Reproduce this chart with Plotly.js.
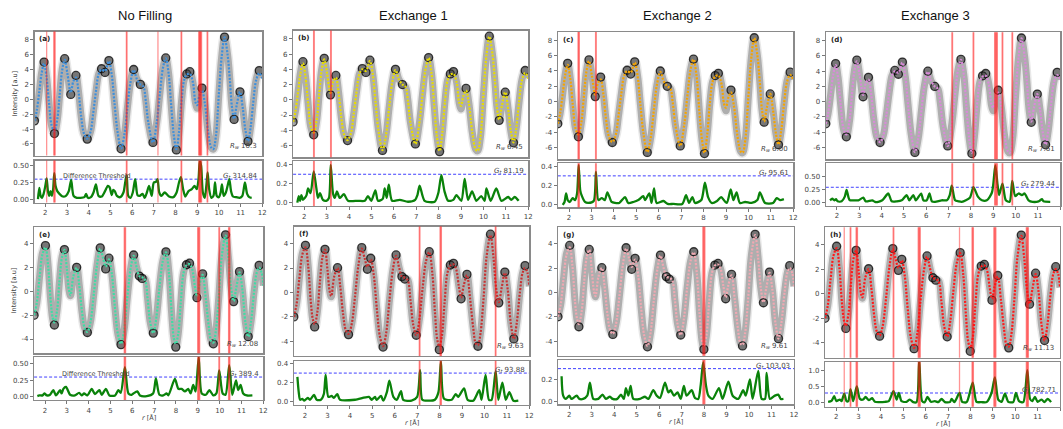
<!DOCTYPE html>
<html>
<head>
<meta charset="utf-8">
<script src="https://cdn.plot.ly/plotly-3.0.1.min.js"></script>
<style>
  html, body { margin: 0; padding: 0; background: #fff; }
  #chart { width: 1063px; height: 429px; }
</style>
</head>
<body>
<div id="chart"></div>
<script>
// ---------- data ----------
// Measured G(r) for the top row (panels a-d share the same data set)
const rTop = [1.50,1.60,1.72,1.83,1.94,2.05,2.17,2.29,2.42,2.55,2.66,2.77,2.89,3.02,3.17,3.29,3.41,3.53,3.65,3.78,3.93,4.08,4.20,4.33,4.46,4.59,4.75,4.93,5.06,5.18,5.32,5.49,5.64,5.78,5.92,6.07,6.22,6.38,6.52,6.62,6.75,6.96,7.13,7.28,7.42,7.55,7.68,7.80,7.92,8.04,8.16,8.28,8.40,8.52,8.66,8.80,8.92,9.00,9.10,9.22,9.35,9.50,9.65,9.74,9.86,10.00,10.13,10.26,10.40,10.50,10.60,10.70,10.82,10.97,11.10,11.22,11.34,11.46,11.58,11.72,11.86,12.00];
const gTop = [-2.9,-1.6,1.0,3.6,5.0,3.2,-0.5,-3.6,-4.6,-2.8,0.6,3.9,5.45,3.4,0.65,2.4,3.2,1.0,-2.3,-4.6,-5.35,-4.4,-2.0,1.0,3.4,4.1,3.6,5.2,3.3,-0.3,-4.2,-6.65,-4.8,-1.2,2.2,4.0,2.7,2.0,1.7,0.0,-3.2,-5.8,-3.2,0.8,4.2,5.55,3.5,-0.8,-4.8,-6.8,-4.4,-0.2,2.6,3.4,3.7,2.3,-0.5,-1.2,0.6,1.5,-0.5,-4.3,-6.5,-6.7,-5.0,0.8,5.8,8.35,6.0,2.8,-1.0,-2.7,-0.8,1.0,-1.2,-4.1,-5.65,-3.8,-0.5,2.7,3.85,2.9];
// Refined model for the top row
const fitTop = [-2.9,-1.6,1.0,3.5,4.8,3.1,-0.5,-3.5,-4.3,-2.7,0.6,3.8,5.3,3.4,0.9,2.4,2.9,1.0,-2.3,-4.6,-5.3,-4.4,-2.0,1.0,3.4,4.0,3.8,5.1,3.3,-0.3,-4.2,-6.6,-4.8,-1.2,2.2,3.9,2.7,2.0,1.7,0.0,-3.2,-5.8,-3.2,0.8,4.2,5.5,3.5,-0.8,-4.8,-6.7,-4.4,-0.2,2.6,3.3,3.4,2.3,-0.4,-0.8,0.5,1.2,-0.5,-4.3,-6.5,-6.7,-5.0,0.8,5.8,8.3,6.0,2.8,-1.0,-2.6,-0.8,1.0,-1.2,-4.1,-5.6,-3.8,-0.5,2.6,3.5,2.8];

// Measured G(r) for the bottom row (panels e-h share the same data set)
const rBottom = [1.50,1.62,1.75,1.88,2.02,2.14,2.26,2.35,2.43,2.55,2.66,2.78,2.89,3.00,3.10,3.17,3.30,3.45,3.57,3.70,3.82,3.94,4.08,4.22,4.38,4.53,4.66,4.78,4.93,5.06,5.20,5.34,5.48,5.62,5.76,5.92,6.06,6.20,6.32,6.45,6.58,6.70,6.82,6.96,7.10,7.24,7.40,7.54,7.68,7.80,7.90,7.99,8.10,8.22,8.35,8.48,8.62,8.74,8.86,8.96,9.08,9.22,9.36,9.50,9.62,9.71,9.82,9.96,10.10,10.27,10.40,10.52,10.64,10.77,10.91,11.04,11.18,11.31,11.44,11.58,11.70,11.81,11.92,12.00];
const gBottom = [-2.0,-1.0,1.2,3.2,3.86,2.2,-0.8,-2.3,-2.82,-1.6,0.8,2.9,3.53,1.9,0.1,-0.36,1.3,2.03,0.5,-1.8,-3.1,-3.45,-2.6,-0.5,2.2,3.67,2.8,1.9,2.8,1.5,-1.3,-3.6,-4.47,-3.3,-0.7,1.9,3.07,2.0,1.3,1.1,1.05,-0.6,-2.6,-3.5,-2.2,0.3,2.6,3.34,1.5,-1.8,-3.9,-4.68,-3.6,-0.9,1.6,2.25,2.38,1.9,0.5,-0.52,0.6,1.48,-0.5,-2.9,-4.2,-4.4,-3.4,-0.5,3.0,4.77,2.9,0.4,-0.85,0.4,1.67,0.2,-2.6,-3.8,-2.5,0.0,1.6,2.2,1.6,0.5];
const fitBottom = [-2.0,-1.0,1.2,3.1,3.7,2.2,-0.8,-2.2,-2.6,-1.6,0.8,2.9,3.5,1.9,0.1,-0.3,1.3,2.0,0.5,-1.8,-3.1,-3.4,-2.6,-0.5,2.2,3.6,2.8,2.1,2.7,1.5,-1.3,-3.6,-4.4,-3.3,-0.7,1.9,3.0,2.0,1.3,1.2,1.0,-0.6,-2.6,-3.5,-2.2,0.3,2.6,3.3,1.5,-1.8,-3.9,-4.4,-3.6,-0.9,1.6,2.2,2.3,1.9,0.5,-0.4,0.6,1.4,-0.5,-2.9,-4.2,-4.3,-3.4,-0.5,3.0,4.7,2.9,0.4,-0.8,0.4,1.6,0.2,-2.6,-3.8,-2.5,0.0,1.6,2.0,1.6,0.5];

// Absolute difference |data - model| for each panel, as [r, difference]
const diffA = [[1.66,0.00],[1.72,0.17],[1.78,0.05],[1.84,0.02],[1.92,0.08],[2.00,0.20],[2.06,0.31],[2.12,0.12],[2.18,0.05],[2.24,0.12],[2.30,0.05],[2.36,0.15],[2.41,0.39],[2.47,0.20],[2.55,0.12],[2.65,0.08],[2.80,0.04],[2.95,0.05],[3.08,0.12],[3.19,0.29],[3.30,0.05],[3.45,0.02],[3.60,0.02],[3.80,0.03],[3.88,0.08],[3.96,0.02],[4.10,0.03],[4.22,0.10],[4.33,0.22],[4.45,0.05],[4.60,0.04],[4.75,0.12],[4.88,0.20],[4.96,0.18],[5.06,0.06],[5.13,0.14],[5.20,0.12],[5.30,0.05],[5.45,0.03],[5.60,0.10],[5.68,0.25],[5.75,0.36],[5.82,0.05],[5.92,0.02],[6.03,0.10],[6.14,0.30],[6.25,0.06],[6.35,0.05],[6.48,0.08],[6.58,0.02],[6.68,0.10],[6.78,0.20],[6.90,0.05],[7.00,0.25],[7.10,0.26],[7.17,0.30],[7.25,0.10],[7.35,0.05],[7.50,0.10],[7.70,0.04],[7.90,0.03],[8.05,0.10],[8.16,0.25],[8.25,0.33],[8.35,0.15],[8.45,0.04],[8.60,0.12],[8.75,0.15],[8.88,0.20],[8.98,0.15],[9.06,0.30],[9.12,0.58],[9.18,0.50],[9.26,0.10],[9.35,0.02],[9.42,0.20],[9.48,0.40],[9.55,0.15],[9.65,0.02],[9.75,0.05],[9.82,0.25],[9.90,0.05],[10.00,0.03],[10.08,0.10],[10.14,0.22],[10.22,0.05],[10.32,0.10],[10.40,0.20],[10.48,0.30],[10.56,0.12],[10.65,0.04],[10.80,0.03],[10.95,0.02],[11.08,0.05],[11.20,0.25],[11.30,0.08],[11.40,0.03],[11.51,0.02]];
const diffB = [[1.69,0.00],[1.75,0.07],[1.81,0.02],[1.87,0.08],[1.94,0.03],[2.02,0.05],[2.10,0.08],[2.17,0.15],[2.28,0.10],[2.42,0.33],[2.54,0.15],[2.61,0.05],[2.70,0.10],[2.83,0.03],[2.98,0.02],[3.10,0.05],[3.18,0.40],[3.28,0.10],[3.36,0.05],[3.46,0.12],[3.58,0.05],[3.77,0.09],[3.95,0.02],[4.40,0.02],[4.70,0.02],[4.84,0.07],[4.99,0.02],[5.17,0.13],[5.29,0.02],[5.50,0.04],[5.59,0.15],[5.68,0.05],[5.77,0.19],[5.92,0.02],[6.26,0.03],[6.63,0.01],[6.95,0.03],[7.05,0.08],[7.15,0.18],[7.37,0.02],[7.82,0.01],[7.98,0.10],[8.12,0.29],[8.26,0.12],[8.42,0.02],[8.65,0.03],[8.79,0.08],[9.01,0.02],[9.16,0.25],[9.31,0.03],[9.49,0.12],[9.68,0.02],[9.90,0.07],[10.05,0.02],[10.13,0.15],[10.32,0.02],[10.57,0.15],[10.80,0.02],[11.10,0.06],[11.24,0.03],[11.39,0.06],[11.57,0.02]];
const diffC = [[1.72,0.00],[1.80,0.03],[1.87,0.12],[1.94,0.05],[2.04,0.03],[2.16,0.07],[2.27,0.05],[2.36,0.12],[2.43,0.41],[2.50,0.15],[2.56,0.10],[2.71,0.03],[2.86,0.02],[3.10,0.04],[3.20,0.34],[3.31,0.05],[3.46,0.07],[3.60,0.05],[3.71,0.13],[3.90,0.03],[4.05,0.02],[4.24,0.02],[4.50,0.08],[4.64,0.02],[4.87,0.03],[5.09,0.05],[5.31,0.09],[5.39,0.05],[5.58,0.12],[5.68,0.02],[5.79,0.17],[5.91,0.02],[6.21,0.04],[6.40,0.01],[6.65,0.01],[7.05,0.01],[7.22,0.10],[7.35,0.02],[7.50,0.08],[7.62,0.02],[7.90,0.05],[8.06,0.23],[8.20,0.08],[8.36,0.02],[8.60,0.04],[8.78,0.08],[9.03,0.02],[9.21,0.16],[9.33,0.05],[9.47,0.13],[9.62,0.02],[9.85,0.03],[10.14,0.02],[10.40,0.05],[10.51,0.13],[10.74,0.02],[11.10,0.02],[11.26,0.07],[11.41,0.05],[11.58,0.06]];
const diffD = [[1.69,0.05],[1.79,0.08],[1.88,0.05],[1.96,0.07],[2.03,0.03],[2.21,0.03],[2.35,0.12],[2.43,0.25],[2.52,0.10],[2.58,0.05],[2.81,0.05],[2.96,0.05],[3.18,0.10],[3.29,0.03],[3.58,0.05],[3.70,0.02],[3.85,0.02],[4.03,0.05],[4.30,0.18],[4.45,0.03],[4.68,0.03],[4.90,0.05],[5.12,0.15],[5.24,0.05],[5.42,0.15],[5.53,0.05],[5.77,0.18],[5.87,0.05],[6.02,0.05],[6.14,0.18],[6.25,0.03],[6.39,0.02],[6.69,0.05],[6.92,0.05],[7.05,0.15],[7.14,0.33],[7.29,0.05],[7.44,0.03],[7.59,0.02],[7.95,0.10],[8.11,0.30],[8.31,0.12],[8.49,0.05],[8.71,0.05],[8.94,0.20],[9.09,0.72],[9.19,0.35],[9.26,0.15],[9.41,0.37],[9.56,0.05],[9.73,0.02],[9.85,0.42],[9.98,0.13],[10.13,0.18],[10.28,0.15],[10.40,0.18],[10.58,0.05],[10.76,0.02],[11.03,0.03],[11.18,0.07],[11.25,0.03],[11.55,0.02]];
const diffE = [[1.65,0.01],[1.74,0.02],[1.89,0.02],[1.97,0.05],[2.08,0.02],[2.23,0.03],[2.38,0.10],[2.50,0.02],[2.69,0.10],[2.76,0.05],[2.84,0.12],[2.96,0.15],[3.15,0.03],[3.37,0.02],[3.56,0.06],[3.68,0.02],[3.79,0.05],[3.94,0.02],[4.14,0.12],[4.29,0.04],[4.49,0.10],[4.60,0.03],[4.79,0.12],[4.95,0.02],[5.21,0.02],[5.36,0.10],[5.47,0.06],[5.66,0.45],[5.82,0.05],[5.97,0.03],[6.05,0.05],[6.23,0.08],[6.35,0.02],[6.66,0.01],[6.95,0.05],[7.08,0.28],[7.24,0.03],[7.42,0.02],[7.57,0.05],[7.65,0.02],[7.95,0.27],[8.11,0.12],[8.26,0.12],[8.41,0.08],[8.56,0.12],[8.67,0.05],[8.79,0.18],[8.90,0.08],[9.04,0.60],[9.18,0.05],[9.37,0.03],[9.53,0.10],[9.71,0.02],[9.85,0.05],[9.98,0.40],[10.14,0.05],[10.27,0.03],[10.44,0.48],[10.58,0.03],[10.75,0.25],[10.85,0.10],[10.96,0.18],[11.08,0.05],[11.24,0.02],[11.50,0.02]];
const diffF = [[1.66,0.26],[1.72,0.10],[1.78,0.02],[1.88,0.03],[1.97,0.01],[2.12,0.04],[2.22,0.02],[2.40,0.07],[2.52,0.02],[2.71,0.02],[2.84,0.08],[2.92,0.28],[3.04,0.05],[3.19,0.06],[3.29,0.04],[3.44,0.08],[3.56,0.02],[4.23,0.02],[4.85,0.05],[4.97,0.02],[5.12,0.05],[5.19,0.02],[5.39,0.06],[5.49,0.01],[5.65,0.10],[5.76,0.22],[5.94,0.05],[6.09,0.02],[6.28,0.11],[6.38,0.02],[6.75,0.01],[7.00,0.05],[7.13,0.33],[7.23,0.02],[7.50,0.01],[7.79,0.02],[7.95,0.10],[8.06,0.42],[8.20,0.03],[8.54,0.02],[8.72,0.08],[8.83,0.05],[9.09,0.14],[9.25,0.02],[9.50,0.01],[9.77,0.12],[9.87,0.02],[10.05,0.28],[10.20,0.02],[10.32,0.02],[10.50,0.32],[10.62,0.02],[10.80,0.20],[10.95,0.02],[11.11,0.10],[11.29,0.01],[11.51,0.01]];
const diffG = [[1.66,0.23],[1.73,0.05],[1.85,0.02],[2.00,0.05],[2.10,0.02],[2.33,0.05],[2.45,0.02],[2.62,0.02],[2.80,0.05],[2.92,0.17],[3.07,0.02],[3.29,0.02],[3.48,0.06],[3.63,0.02],[3.81,0.04],[3.93,0.02],[4.14,0.02],[4.30,0.06],[4.43,0.02],[4.52,0.12],[4.63,0.05],[4.73,0.14],[4.85,0.02],[5.15,0.02],[5.37,0.04],[5.52,0.02],[5.74,0.10],[5.89,0.05],[6.04,0.03],[6.26,0.17],[6.41,0.08],[6.51,0.10],[6.66,0.05],[6.82,0.08],[6.96,0.02],[7.10,0.14],[7.22,0.05],[7.45,0.10],[7.59,0.03],[7.74,0.02],[7.85,0.15],[7.96,0.36],[8.08,0.15],[8.19,0.05],[8.38,0.02],[8.66,0.12],[8.82,0.02],[9.08,0.18],[9.27,0.05],[9.52,0.02],[9.74,0.10],[9.85,0.05],[10.04,0.20],[10.16,0.02],[10.41,0.28],[10.56,0.02],[10.71,0.02],[10.78,0.26],[10.93,0.02],[11.15,0.05],[11.30,0.06],[11.41,0.02],[11.53,0.02]];
const diffH = [[1.64,0.03],[1.79,0.06],[1.91,0.20],[2.01,0.05],[2.16,0.10],[2.24,0.05],[2.36,0.28],[2.46,0.05],[2.54,0.05],[2.64,0.42],[2.76,0.05],[2.92,0.50],[3.06,0.12],[3.21,0.10],[3.31,0.18],[3.46,0.08],[3.61,0.14],[3.73,0.03],[3.95,0.02],[4.18,0.03],[4.35,0.05],[4.56,0.36],[4.70,0.10],[4.80,0.30],[4.92,0.05],[5.14,0.03],[5.29,0.10],[5.44,0.02],[5.59,0.02],[5.71,1.30],[5.84,0.05],[5.96,0.02],[6.08,0.18],[6.23,0.03],[6.41,0.05],[6.56,0.02],[6.71,0.12],[6.86,0.02],[7.08,0.02],[7.16,0.12],[7.28,0.02],[7.51,0.30],[7.63,0.03],[7.83,0.02],[8.10,0.62],[8.27,0.03],[8.50,0.02],[8.72,0.02],[8.94,0.30],[9.09,0.78],[9.24,0.10],[9.39,0.03],[9.54,0.28],[9.69,0.03],[9.91,0.02],[10.03,0.30],[10.17,0.05],[10.36,0.02],[10.54,1.00],[10.66,0.12],[10.76,0.05],[10.88,0.18],[11.00,0.03],[11.18,0.10],[11.30,0.02],[11.45,0.12],[11.60,0.02]];

// Flagged r positions above the threshold, as [r, number of flagged points]
const flagsA = [[2.06,1],[2.42,3],[5.75,2],[7.19,1],[8.27,2],[9.10,3],[9.17,3],[9.47,2]];
const flagsB = [[2.43,2],[3.19,2]];
const flagsC = [[2.43,3],[3.20,2]];
const flagsD = [[7.16,2],[8.11,2],[9.12,5],[9.41,2],[9.85,2]];
const flagsE = [[5.66,3],[9.04,4],[9.98,2],[10.44,3]];
const flagsF = [[7.11,2],[8.05,3],[10.50,2]];
const flagsG = [[7.99,4]];
const flagsH = [[2.36,1],[2.64,2],[2.92,3],[4.56,2],[5.71,4],[7.51,1],[8.10,3],[9.09,4],[10.54,4]];

const columnTitles = ['No Filling', 'Exchange 1', 'Exchange 2', 'Exchange 3'];
const panelLetters = ['(a)', '(b)', '(c)', '(d)', '(e)', '(f)', '(g)', '(h)'];
const rwValues = ['10.3', '6.45', '6.00', '7.61', '12.08', '9.63', '9.61', '11.13'];
const gtValues = ['314.84', '81.19', '95.61', '279.44', '389.4', '93.88', '103.03', '782.71'];
const threshold = 0.3;
const rRange = [1.5, 12];

// ---------- layout geometry (pixels of the 1063 x 429 page) ----------
const W = 1063, H = 429;
const geom = [
  { x: [34.5, 262.3],  main: [31.5, 155.5],  diff: [160.5, 202.5] },
  { x: [293.1, 528.3], main: [30.5, 157.3],  diff: [161.0, 206.0] },
  { x: [557.8, 793.3], main: [32.0, 159.3],  diff: [163.3, 207.3] },
  { x: [825.8, 1060.3],main: [32.3, 159.3],  diff: [163.3, 205.5] },
  { x: [34.1, 263.3],  main: [227.3, 353.3], diff: [356.7, 400.0] },
  { x: [293.8, 529.3], main: [226.5, 356.0], diff: [360.7, 405.0] },
  { x: [558.0, 794.0], main: [226.7, 355.7], diff: [360.0, 404.3] },
  { x: [825.0, 1060.0],main: [227.3, 357.7], diff: [361.7, 406.7] }
];

const topMain = { range: [-7.55, 9.1], ticks: [-6, -4, -2, 0, 2, 4, 6, 8] };
const botMain = { range: [-5.2, 5.4], ticks: [-4, -2, 0, 2, 4] };

const panels = [
  { obs: [rTop, gTop], fit: fitTop, main: topMain, fitColor: '#3d8fdc', diff: diffA, flags: flagsA, dRange: [-0.05, 0.58], dTicks: [0, 0.25, 0.5], dFmt: '.2f' },
  { obs: [rTop, gTop], fit: fitTop, main: topMain, fitColor: '#e8dc00', diff: diffB, flags: flagsB, dRange: [-0.035, 0.44], dTicks: [0, 0.2, 0.4], dFmt: '.1f' },
  { obs: [rTop, gTop], fit: fitTop, main: topMain, fitColor: '#f5a400', diff: diffC, flags: flagsC, dRange: [-0.025, 0.43], dTicks: [0, 0.2, 0.4], dFmt: '.1f' },
  { obs: [rTop, gTop], fit: fitTop, main: topMain, fitColor: '#d98ad9', diff: diffD, flags: flagsD, dRange: [-0.05, 0.76], dTicks: [0, 0.25, 0.5], dFmt: '.2f' },
  { obs: [rBottom, gBottom], fit: fitBottom, main: botMain, fitColor: '#3fdca4', diff: diffE, flags: flagsE, dRange: [-0.05, 0.61], dTicks: [0, 0.25, 0.5], dFmt: '.2f' },
  { obs: [rBottom, gBottom], fit: fitBottom, main: botMain, fitColor: '#c83232', diff: diffF, flags: flagsF, dRange: [-0.035, 0.43], dTicks: [0, 0.2, 0.4], dFmt: '.1f' },
  { obs: [rBottom, gBottom], fit: fitBottom, main: botMain, fitColor: '#f0a8b2', diff: diffG, flags: flagsG, dRange: [-0.03, 0.38], dTicks: [0, 0.2], dFmt: '.1f' },
  { obs: [rBottom, gBottom], fit: fitBottom, main: botMain, fitColor: '#ff1a1a', diff: diffH, flags: flagsH, dRange: [-0.12, 1.26], dTicks: [0, 0.5, 1.0], dFmt: '.1f' }
];

// ---------- build figure ----------
const tickFont = { family: 'DejaVu Sans, sans-serif', size: 7, color: '#444' };
const frame = {
  showline: true, mirror: true, linecolor: '#8a8a8a', linewidth: 1.2,
  showgrid: false, zeroline: false, ticks: 'outside', ticklen: 3,
  tickwidth: 1, tickcolor: '#777', tickfont: tickFont
};

const data = [], shapes = [], annotations = [];
const layout = {
  width: W, height: H, margin: { l: 0, r: 0, t: 0, b: 0 },
  paper_bgcolor: '#ffffff', plot_bgcolor: '#ffffff', showlegend: false,
  font: { family: 'DejaVu Sans, sans-serif', size: 7, color: '#444' },
  shapes, annotations
};

const axName = n => (n === 1 ? '' : String(n));

// points where the curve is flat (extrema, shoulders, ends) collect the
// densest overlap of data markers
function flatPoints(r, g) {
  const xs = [], ys = [];
  for (let i = 0; i < r.length; i++) {
    const a = Math.max(0, i - 1), b = Math.min(r.length - 1, i + 1);
    const slope = Math.abs((g[b] - g[a]) / (r[b] - r[a]));
    if (i === 0 || slope < 6) { xs.push(r[i]); ys.push(g[i]); }
  }
  return [xs, ys];
}

panels.forEach((p, i) => {
  const g = geom[i];
  const m = 2 * i + 1, d = 2 * i + 2;
  const xm = 'x' + axName(m), ym = 'y' + axName(m);
  const xd = 'x' + axName(d), yd = 'y' + axName(d);
  const xDom = [g.x[0] / W, g.x[1] / W];

  layout['xaxis' + axName(m)] = Object.assign({}, frame, {
    domain: xDom, range: rRange, anchor: ym, ticks: '', showticklabels: false
  });
  layout['yaxis' + axName(m)] = Object.assign({}, frame, {
    domain: [1 - g.main[1] / H, 1 - g.main[0] / H], range: p.main.range,
    anchor: xm, tickvals: p.main.ticks, ticktext: p.main.ticks.map(String)
  });
  layout['xaxis' + axName(d)] = Object.assign({}, frame, {
    domain: xDom, range: rRange, anchor: yd,
    tickvals: [2, 3, 4, 5, 6, 7, 8, 9, 10, 11, 12]
  });
  layout['yaxis' + axName(d)] = Object.assign({}, frame, {
    domain: [1 - g.diff[1] / H, 1 - g.diff[0] / H], range: p.dRange,
    anchor: xd, tickvals: p.dTicks, tickformat: p.dFmt
  });

  const [r, gv] = p.obs;
  // measured data: translucent band plus dark markers where points pile up
  data.push({ x: r, y: gv, xaxis: xm, yaxis: ym, type: 'scatter', mode: 'lines',
    line: { shape: 'spline', smoothing: 1, width: 10, color: 'rgba(0,0,0,0.09)' }, hoverinfo: 'skip' });
  data.push({ x: r, y: gv, xaxis: xm, yaxis: ym, type: 'scatter', mode: 'lines',
    line: { shape: 'spline', smoothing: 1, width: 7, color: 'rgba(40,40,40,0.30)' }, hoverinfo: 'skip' });
  const [fx, fy] = flatPoints(r, gv);
  data.push({ x: fx, y: fy, xaxis: xm, yaxis: ym, type: 'scatter', mode: 'markers',
    marker: { size: 8, color: 'rgba(50,50,50,0.45)', line: { width: 1.3, color: 'rgba(0,0,0,0.75)' } }, hoverinfo: 'skip' });
  // model
  data.push({ x: r, y: p.fit, xaxis: xm, yaxis: ym, type: 'scatter', mode: 'lines',
    line: { shape: 'spline', smoothing: 1, width: 2.2, dash: '2px,1.5px', color: p.fitColor } });

  // difference curve
  data.push({ x: p.diff.map(v => v[0]), y: p.diff.map(v => v[1]), xaxis: xd, yaxis: yd,
    type: 'scatter', mode: 'lines',
    line: { shape: 'spline', smoothing: 0.7, width: 2.3, color: '#0a820a' } });

  // threshold line
  shapes.push({ type: 'line', xref: xd + ' domain', yref: yd, x0: 0, x1: 1, y0: threshold, y1: threshold,
    line: { color: 'rgba(30,30,255,0.85)', width: 1, dash: '3px,2px' }, layer: 'below' });

  // flagged positions, drawn through both the fit and difference panels
  p.flags.forEach(([rc, n]) => {
    for (let k = 0; k < n; k++) {
      const rx = rc + (k - (n - 1) / 2) * 0.03;
      [[xm, ym], [xd, yd]].forEach(([xa, ya]) => {
        shapes.push({ type: 'line', xref: xa, yref: ya + ' domain', x0: rx, x1: rx, y0: 0, y1: 1,
          line: { color: 'rgba(255,20,20,0.45)', width: 1.3 }, layer: 'above' });
      });
    }
  });

  // panel letter
  annotations.push({ xref: xm + ' domain', yref: ym + ' domain', x: 0.012, y: 0.985,
    xanchor: 'left', yanchor: 'top', showarrow: false, text: '<b>' + panelLetters[i] + '</b>',
    font: { family: 'DejaVu Sans, sans-serif', size: 7, color: '#222' } });
  // Rw
  annotations.push({ xref: xm + ' domain', yref: ym + ' domain', x: 0.985, y: 0.03,
    xanchor: 'right', yanchor: 'bottom', showarrow: false,
    text: '<i>R<sub>w</sub></i> ' + rwValues[i],
    font: { family: 'DejaVu Sans, sans-serif', size: 7, color: '#444' } });
  // Gt
  annotations.push({ xref: xd + ' domain', yref: yd, x: 0.99, y: threshold,
    xanchor: 'right', yanchor: 'bottom', yshift: -3, showarrow: false,
    text: '<i>G<sub>t</sub></i> ' + gtValues[i],
    font: { family: 'DejaVu Sans, sans-serif', size: 7, color: '#444' } });
  if (i === 0 || i === 4) {
    annotations.push({ xref: xd, yref: yd, x: 2.7, y: threshold,
      xanchor: 'left', yanchor: 'bottom', yshift: -3, showarrow: false,
      text: 'Difference Threshold',
      font: { family: 'DejaVu Sans, sans-serif', size: 6.5, color: '#444' } });
  }
  if (i >= 4) {
    annotations.push({ xref: 'paper', yref: 'paper', x: (g.x[0] + g.x[1]) / 2 / W,
      y: 1 - (g.diff[1] + 17) / H, xanchor: 'center', yanchor: 'middle', showarrow: false,
      text: '<i>r</i> [Å]', font: { family: 'DejaVu Sans, sans-serif', size: 6.5, color: '#444' } });
  }
  if (i === 0 || i === 4) {
    annotations.push({ xref: 'paper', yref: 'paper', x: 14 / W,
      y: 1 - ((g.main[0] + g.main[1]) / 2) / H, xanchor: 'center', yanchor: 'middle',
      textangle: -90, showarrow: false, text: 'Intensity [a.u]',
      font: { family: 'DejaVu Sans, sans-serif', size: 6.5, color: '#444' } });
  }
});

// column headings
[144.5, 413.5, 677, 935].forEach((cx, j) => {
  annotations.push({ xref: 'paper', yref: 'paper', x: cx / W, y: 1 - 15 / H,
    xanchor: 'center', yanchor: 'middle', showarrow: false, text: columnTitles[j],
    font: { family: 'Liberation Sans, Arial, sans-serif', size: 13, color: '#111' } });
});

Plotly.newPlot('chart', data, layout, { staticPlot: true, displayModeBar: false });
</script>
</body>
</html>
